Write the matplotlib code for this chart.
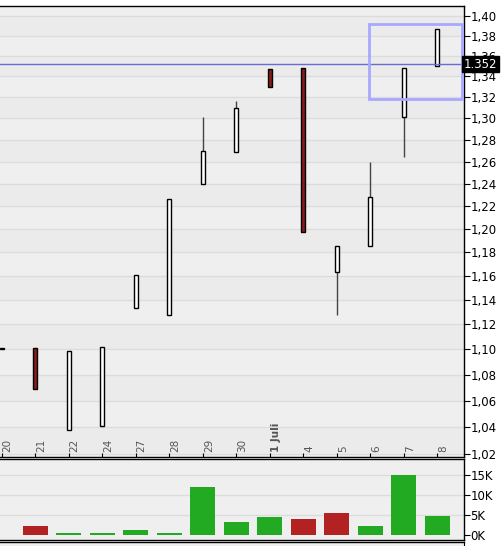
import matplotlib
matplotlib.use("Agg")
import matplotlib.pyplot as plt
import matplotlib.transforms as mtransforms
from matplotlib.patches import Rectangle
import numpy as np

# trading days shown on the x axis
day_labels = ["20", "21", "22", "24", "27", "28", "29", "30", "1 Juli", "4", "5", "6", "7", "8"]

# candle data (price, log scale)
opens  = [1.100, 1.101, 1.038, 1.041, 1.133, 1.128, 1.240, 1.269, 1.347, 1.348, 1.163, 1.185, 1.301, 1.350]
closes = [1.101, 1.069, 1.099, 1.102, 1.161, 1.226, 1.270, 1.310, 1.330, 1.197, 1.185, 1.228, 1.348, 1.387]
highs  = [1.101, 1.101, 1.099, 1.102, 1.161, 1.226, 1.301, 1.316, 1.347, 1.348, 1.185, 1.260, 1.348, 1.387]
lows   = [1.100, 1.069, 1.038, 1.041, 1.133, 1.128, 1.240, 1.269, 1.330, 1.197, 1.128, 1.185, 1.264, 1.350]

# volume in thousands and bar colour flag (True = red)
volume = [0.0, 2.2, 0.4, 0.4, 1.2, 0.4, 12.0, 3.25, 4.4, 3.9, 5.5, 2.2, 15.0, 4.75]
vol_red = [False, True, False, False, False, False, False, False, False, True, True, False, False, False]

last_price = 1.352
zoom_box = (10.96, 1.3185, 1.392)  # x start, y low, y high

price_ticks = [1.02, 1.04, 1.06, 1.08, 1.10, 1.12, 1.14, 1.16, 1.18, 1.20, 1.22,
               1.24, 1.26, 1.28, 1.30, 1.32, 1.34, 1.36, 1.38, 1.40]
vol_ticks = [0, 5, 10, 15]

BG = "#efefef"
BAND = "#ebebeb"
GRID = "#dcdcdc"
CANDLE_RED = "#8b1a1a"
VOL_RED = "#b22222"
VOL_GREEN = "#22aa22"

W, H = 504, 546
fig = plt.figure(figsize=(W / 100, H / 100), dpi=100)
fig.patch.set_facecolor("white")

x = np.arange(len(day_labels))
xlim = (-0.05, 13.78)
right = 463.5 / W

# ---- price panel ----
ax = fig.add_axes([0, 1 - 456.5 / H, right, (456.5 - 6) / H])
ax.set_facecolor(BG)
ax.set_yscale("log")
ax.set_ylim(1.018, 1.410)
ax.set_xlim(*xlim)

for k in range(0, len(price_ticks) - 1, 2):
    ax.axhspan(price_ticks[k], price_ticks[k + 1], color=BAND, lw=0, zorder=0)
for t in price_ticks:
    ax.axhline(t, color=GRID, lw=1, zorder=0.5)

ax.vlines(x, lows, highs, color="#444444", lw=1, zorder=2)
body_low = np.minimum(opens, closes)
body_h = np.abs(np.array(closes) - np.array(opens))
body_col = [CANDLE_RED if c < o else "white" for o, c in zip(opens, closes)]
ax.bar(x, body_h, bottom=body_low, width=0.12, color=body_col,
       edgecolor="black", lw=1, zorder=3)

ax.axhline(last_price, color="#6b6bd6", lw=1, zorder=4)
ax.add_patch(Rectangle((zoom_box[0], zoom_box[1]), xlim[1] - zoom_box[0] - 0.03,
                       zoom_box[2] - zoom_box[1], fill=False,
                       edgecolor="#a8a8ff", lw=2, zorder=4))

ax.yaxis.tick_right()
ax.yaxis.set_minor_locator(matplotlib.ticker.NullLocator())
ax.set_yticks(price_ticks)
ax.set_yticklabels([f"{t:.2f}".replace(".", ",") for t in price_ticks])
ax.tick_params(axis="y", which="both", direction="out", length=4, pad=1, labelsize=8.5)
ax.yaxis.set_minor_formatter(matplotlib.ticker.NullFormatter())

ax.set_xticks(x)
ax.set_xticklabels([])
ax.tick_params(axis="x", direction="in", length=3)

trans = mtransforms.offset_copy(ax.get_xaxis_transform(), fig=fig, x=6, y=5, units="dots")
for i, lab in enumerate(day_labels):
    bold = lab == "1 Juli"
    ax.text(i, 0, lab, transform=trans, rotation=90, ha="center", va="bottom",
            fontsize=7.5, color="#555555", fontweight="bold" if bold else "normal")

ax.text(1.0, last_price, f"{last_price:.3f}", transform=ax.get_yaxis_transform(),
        ha="left", va="center", fontsize=8.5, color="white", zorder=6,
        bbox=dict(boxstyle="square,pad=0.15", fc="black", ec="black"))

ax.spines["left"].set_visible(False)
for s in ("top", "right", "bottom"):
    ax.spines[s].set_color("black")
    ax.spines[s].set_linewidth(1.0)

# ---- volume panel ----
vax = fig.add_axes([0, 1 - 539.7 / H, right, (539.7 - 459.0) / H])
vax.set_facecolor(BG)
vax.set_xlim(*xlim)
vax.set_ylim(-1.25, 19)
for t in vol_ticks[1:]:
    vax.axhline(t, color=GRID, lw=1, zorder=0.5)
vax.bar(x, volume, width=0.75, color=[VOL_RED if r else VOL_GREEN for r in vol_red], zorder=2)
vax.yaxis.tick_right()
vax.set_yticks(vol_ticks)
vax.set_yticklabels([f"{t}K" for t in vol_ticks])
vax.tick_params(axis="y", direction="out", length=4, pad=1, labelsize=8.5)
vax.set_xticks([])
vax.spines["left"].set_visible(False)
for s in ("top", "right", "bottom"):
    vax.spines[s].set_color("black")
    vax.spines[s].set_linewidth(1.0)

# ---- next panel (cut off) ----
bax = fig.add_axes([0, -0.05, right, 0.05 + (546 - 542.3) / H])
bax.set_facecolor(BG)
bax.set_xticks([])
bax.set_yticks([])
bax.spines["left"].set_visible(False)
bax.spines["bottom"].set_visible(False)
bax.spines["top"].set_linewidth(1.0)

fig.savefig("out.png", dpi=100)
